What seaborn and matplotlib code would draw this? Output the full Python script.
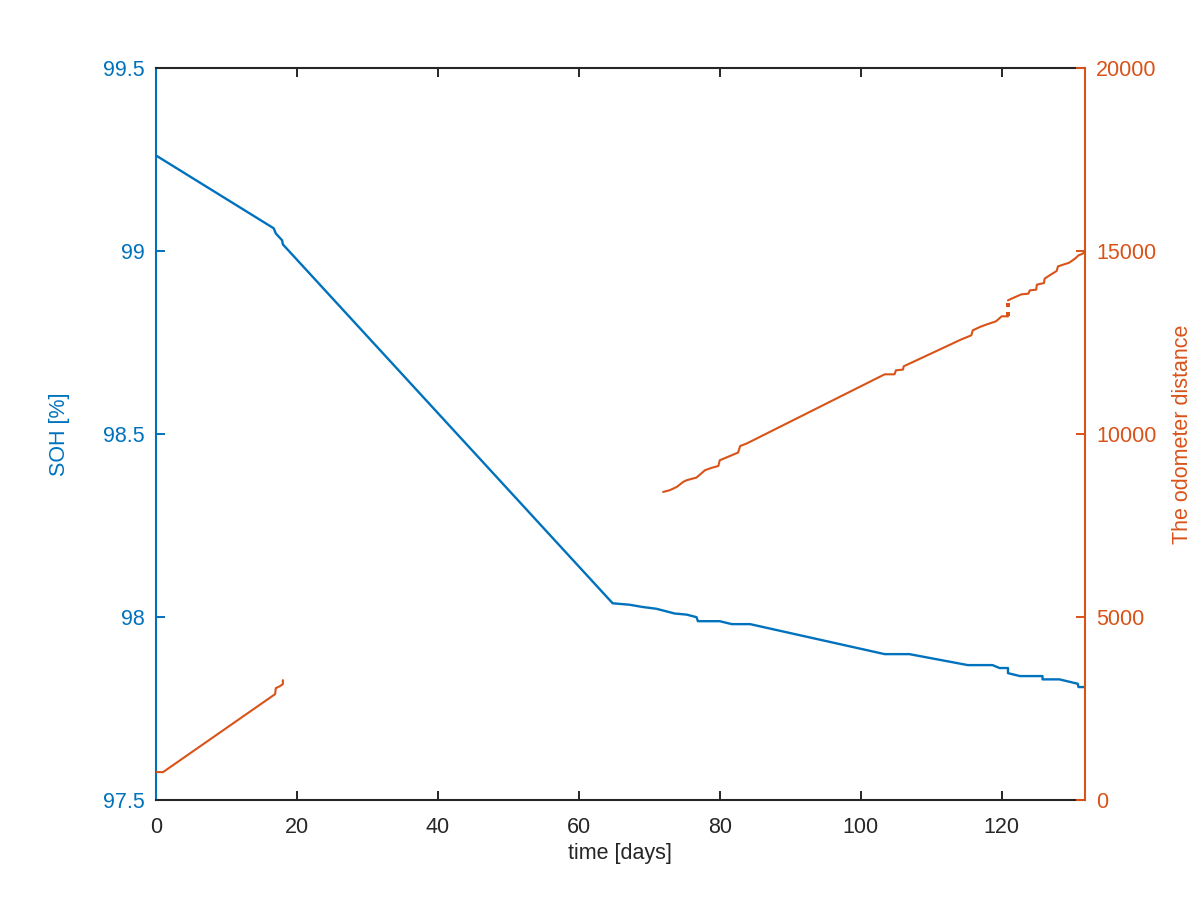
import numpy as np
import pandas as pd
import seaborn as sns
import matplotlib.pyplot as plt

# SOH curve
soh_days = [0, 16.7, 17.0, 17.9, 18.0, 64.8, 67.2, 69.0, 71.0, 72.4, 73.6, 75.3, 76.7, 76.9,
            80.0, 81.7, 84.3, 103.4, 106.9, 115.2, 118.7, 119.7, 120.9, 120.9, 122.6,
            125.8, 125.8, 128.2, 130.8, 130.9, 131.8]
soh = [99.262, 99.063, 99.049, 99.030, 99.019, 98.038, 98.034, 98.028, 98.023, 98.016, 98.010,
       98.007, 98.000, 97.989, 97.989, 97.981, 97.981, 97.899, 97.899, 97.869, 97.869,
       97.861, 97.861, 97.847, 97.839, 97.839, 97.830, 97.830, 97.818, 97.809, 97.809]

# odometer, three pieces with gaps between them
odo_days_1 = [0, 1.0, 16.9, 17.0, 17.6, 18.0, 18.0]
odo_km_1 = [765, 765, 2896, 3060, 3115, 3170, 3279]
odo_days_2 = [71.96, 72.9, 73.9, 74.8, 75.3, 76.7, 77.9, 78.8, 79.8, 80.0, 82.6, 82.9, 83.8,
              103.4, 104.8, 105.0, 106.0, 106.1, 114.3, 115.7, 115.9, 116.9, 117.8, 119.2,
              120.0, 120.9]
odo_km_2 = [8423, 8470, 8560, 8696, 8743, 8816, 9016, 9079, 9133, 9289, 9499, 9680, 9745,
            11638, 11638, 11748, 11767, 11857, 12594, 12704, 12840, 12931, 12996, 13087,
            13223, 13223]
odo_days_3 = [120.9, 121.4, 122.8, 123.8, 124.0, 124.9, 125.0, 126.0, 126.1, 126.8, 127.8,
              128.0, 129.6, 130.4, 130.9, 131.5, 131.8]
odo_km_3 = [13660, 13706, 13824, 13843, 13933, 13952, 14089, 14133, 14253, 14343, 14461,
            14589, 14690, 14799, 14889, 14936, 15000]
odo_dot_days = [120.9, 120.9]
odo_dot_km = [13297, 13520]

blue = '#0072BD'
orange = '#D95319'
dark = '#262626'

sns.set_style('ticks')
plt.rcParams['font.family'] = ['Liberation Sans', 'DejaVu Sans']

odo = pd.DataFrame({
    'day': odo_days_1 + odo_days_2 + odo_days_3,
    'km': odo_km_1 + odo_km_2 + odo_km_3,
    'seg': [1] * len(odo_days_1) + [2] * len(odo_days_2) + [3] * len(odo_days_3),
})

fig = plt.figure(figsize=(12, 9), dpi=100)
ax = fig.add_axes([0.13, 0.111, 0.774, 0.813])
ax2 = ax.twinx()

sns.lineplot(x=soh_days, y=soh, ax=ax, color=blue, lw=1.7, estimator=None, sort=False)
sns.lineplot(data=odo, x='day', y='km', units='seg', ax=ax2, color=orange, lw=1.5,
             estimator=None, sort=False)
sns.scatterplot(x=odo_dot_days, y=odo_dot_km, ax=ax2, color=orange, marker='s', s=6,
                linewidth=0)

ax.set_xlim(0, 131.8)
ax.set_ylim(97.5, 99.5)
ax2.set_ylim(0, 20000)
ax.set_xticks([0, 20, 40, 60, 80, 100, 120])
ax.set_yticks([97.5, 98, 98.5, 99, 99.5])
ax.set_yticklabels(['97.5', '98', '98.5', '99', '99.5'])
ax2.set_yticks([0, 5000, 10000, 15000, 20000])

fs = 15.5
ax.set_xlabel('time [days]', fontsize=fs, color=dark, labelpad=4)
ax.set_ylabel('SOH [%]', fontsize=fs, color=blue, labelpad=24)
ax2.set_ylabel('The odometer distance', fontsize=fs, color=orange, labelpad=11)

ax.tick_params(axis='x', direction='in', top=True, length=6.5, width=1.4, colors=dark,
               labelsize=fs, pad=12)
ax.tick_params(axis='y', direction='in', left=True, right=False, length=6.5, width=1.4,
               colors=blue, labelsize=fs, pad=8)
ax2.tick_params(axis='y', direction='in', right=True, length=6.5, width=1.4,
                colors=orange, labelsize=fs, pad=8)

for a in (ax, ax2):
    for s in a.spines.values():
        s.set_linewidth(1.5)
ax.spines['top'].set_color(dark)
ax.spines['bottom'].set_color(dark)
ax.spines['left'].set_color(blue)
ax.spines['right'].set_visible(False)
ax2.spines['left'].set_visible(False)
ax2.spines['top'].set_visible(False)
ax2.spines['bottom'].set_visible(False)
ax2.spines['right'].set_color(orange)
ax2.spines['right'].set_visible(True)

fig.savefig('out.png', dpi=100)
